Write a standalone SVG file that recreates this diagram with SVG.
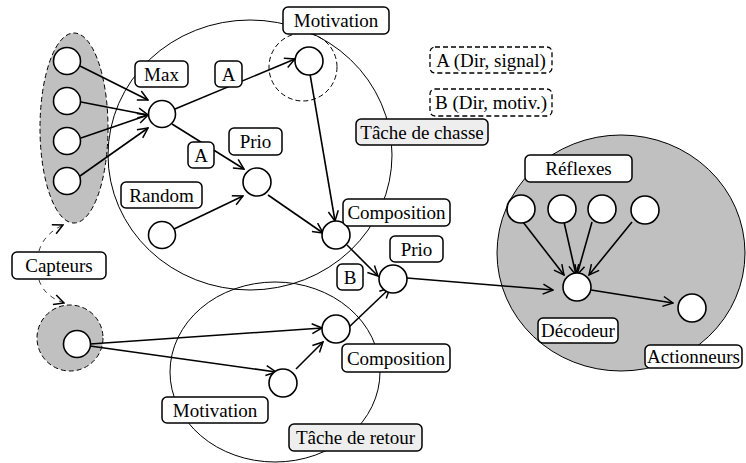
<svg xmlns="http://www.w3.org/2000/svg" width="746" height="463" viewBox="0 0 746 463" font-family="'Liberation Serif', 'Times New Roman', serif">
<defs>
<marker id="arr" viewBox="0 0 12 12" refX="11" refY="6" markerWidth="12" markerHeight="12" markerUnits="userSpaceOnUse" orient="auto">
<path d="M1,1 L11,6 L1,11" fill="none" stroke="#000" stroke-width="1.5"/>
</marker>
</defs>
<style>
.task{fill:none;stroke:#000;stroke-width:1}
.zone{fill:#c0c0c0;stroke:#000;stroke-width:1}
.dash{stroke-dasharray:5,3}
.node{fill:#fff;stroke:#000;stroke-width:1.6}
.lbl{fill:#fff;stroke:#000;stroke-width:1.5}
.lblg{fill:#eeeeee;stroke:#000;stroke-width:1.5}
.leg{fill:#fff;stroke:#000;stroke-width:1.3;stroke-dasharray:5,3}
text{font-family:'Liberation Serif','Times New Roman',serif;font-size:19px;fill:#000;text-anchor:middle}
.conn line,.conn path{stroke:#000;stroke-width:1.6;fill:none;marker-end:url(#arr)}
.conn .cd{stroke-width:0.8;stroke-dasharray:5,5}
</style>

<g id="task-chasse-area"><ellipse class="task" cx="250" cy="155" rx="142" ry="135"/></g>
<g id="task-retour-area"><ellipse class="task" cx="275" cy="372" rx="105" ry="90"/></g>
<g id="decodeur-area"><ellipse class="zone" cx="621" cy="253" rx="124" ry="118"/></g>
<g id="capteurs-zone1"><ellipse class="zone dash" cx="74" cy="128" rx="34" ry="95"/></g>
<g id="capteurs-zone2"><circle class="zone dash" cx="70" cy="338" r="33"/></g>
<g id="motivation-zone"><circle class="task dash" cx="303" cy="67" r="34"/></g>

<g class="conn" id="connectors">
<line x1="80" y1="66" x2="148" y2="100"/>
<line x1="81" y1="102" x2="148" y2="115"/>
<line x1="81" y1="138" x2="148" y2="115"/>
<line x1="80" y1="176" x2="148" y2="128"/>
<line x1="175" y1="109" x2="295" y2="59"/>
<line x1="172" y1="124" x2="244" y2="169"/>
<line x1="174" y1="229" x2="243" y2="196"/>
<line x1="310" y1="74" x2="335" y2="221"/>
<line x1="268" y1="195" x2="323" y2="233"/>
<line x1="347" y1="245" x2="378" y2="276"/>
<line x1="90" y1="344" x2="322" y2="328"/>
<line x1="90" y1="346" x2="276" y2="372"/>
<line x1="296" y1="369" x2="323" y2="342"/>
<line x1="348" y1="328" x2="390" y2="288"/>
<line x1="407" y1="278" x2="553" y2="290"/>
<line x1="523" y1="222" x2="564" y2="275"/>
<line x1="564" y1="222" x2="576" y2="275"/>
<line x1="592" y1="222" x2="577" y2="275"/>
<line x1="632" y1="222" x2="589" y2="275"/>
<line x1="591" y1="290" x2="673" y2="303"/>
<path class="cd" d="M39,251 Q44,234 63,225"/>
<path class="cd" d="M39,280 Q44,296 64,303"/>
</g>

<g id="sensor1"><circle class="node" cx="67" cy="61" r="13.5"/></g>
<g id="sensor2"><circle class="node" cx="67" cy="101" r="13.5"/></g>
<g id="sensor3"><circle class="node" cx="67" cy="141" r="13.5"/></g>
<g id="sensor4"><circle class="node" cx="67" cy="181" r="13.5"/></g>
<g id="sensor5"><circle class="node" cx="77" cy="344" r="13.5"/></g>
<g id="max-node"><circle class="node" cx="162" cy="114" r="13.5"/></g>
<g id="random-node"><circle class="node" cx="162" cy="235" r="13.5"/></g>
<g id="prio-node"><circle class="node" cx="257" cy="182" r="14"/></g>
<g id="motivation-node"><circle class="node" cx="309" cy="61" r="14"/></g>
<g id="composition-node"><circle class="node" cx="336" cy="235" r="14"/></g>
<g id="prio2-node"><circle class="node" cx="393" cy="279" r="14"/></g>
<g id="composition2-node"><circle class="node" cx="336" cy="329" r="14"/></g>
<g id="motivation2-node"><circle class="node" cx="283" cy="383" r="14"/></g>
<g id="reflex1"><circle class="node" cx="521" cy="209" r="14"/></g>
<g id="reflex2"><circle class="node" cx="562" cy="209" r="14"/></g>
<g id="reflex3"><circle class="node" cx="602" cy="209" r="14"/></g>
<g id="reflex4"><circle class="node" cx="645" cy="210" r="14"/></g>
<g id="decodeur-node"><circle class="node" cx="577" cy="287" r="14"/></g>
<g id="actionneur-node"><circle class="node" cx="692" cy="308" r="14"/></g>

<g id="lbl-max"><rect class="lbl" x="135" y="61" width="53" height="26" rx="5"/><text x="161.5" y="80.5">Max</text></g>
<g id="lbl-a1"><rect class="lbl" x="215" y="61" width="27" height="26" rx="5"/><text x="228.5" y="80.5">A</text></g>
<g id="lbl-a2"><rect class="lbl" x="188" y="142" width="26" height="26" rx="5"/><text x="201" y="161.5">A</text></g>
<g id="lbl-prio"><rect class="lbl" x="229" y="128" width="53" height="27" rx="5"/><text x="255.5" y="148">Prio</text></g>
<g id="lbl-random"><rect class="lbl" x="121" y="182" width="81" height="26" rx="5"/><text x="161.5" y="201.5">Random</text></g>
<g id="lbl-motivation"><rect class="lbl" x="283" y="7" width="106" height="27" rx="5"/><text x="336" y="27">Motivation</text></g>
<g id="lbl-tache-chasse"><rect class="lblg" x="356" y="119" width="132" height="26" rx="5"/><text x="422" y="138.5">Tâche de chasse</text></g>
<g id="lbl-composition"><rect class="lbl" x="343" y="199" width="107" height="27" rx="5"/><text x="396.5" y="219">Composition</text></g>
<g id="legend-a"><rect class="leg" x="430" y="47" width="122" height="26" rx="5"/><text x="491" y="66.5">A (Dir, signal)</text></g>
<g id="legend-b"><rect class="leg" x="430" y="89" width="122" height="27" rx="5"/><text x="491" y="109">B (Dir, motiv.)</text></g>
<g id="lbl-prio2"><rect class="lbl" x="390" y="236" width="53" height="26" rx="5"/><text x="416.5" y="255.5">Prio</text></g>
<g id="lbl-b"><rect class="lbl" x="337" y="264" width="26" height="26" rx="5"/><text x="350" y="283.5">B</text></g>
<g id="lbl-capteurs"><rect class="lbl" x="12" y="252" width="94" height="27" rx="5"/><text x="59" y="272">Capteurs</text></g>
<g id="lbl-composition2"><rect class="lbl" x="342" y="344" width="108" height="28" rx="5"/><text x="396" y="364.5">Composition</text></g>
<g id="lbl-motivation2"><rect class="lbl" x="162" y="397" width="106" height="26" rx="5"/><text x="215" y="416.5">Motivation</text></g>
<g id="lbl-tache-retour"><rect class="lblg" x="289" y="424" width="133" height="27" rx="5"/><text x="355.5" y="444">Tâche de retour</text></g>
<g id="lbl-reflexes"><rect class="lbl" x="525" y="155" width="107" height="27" rx="5"/><text x="578.5" y="175">Réflexes</text></g>
<g id="lbl-decodeur"><rect class="lbl" x="538" y="318" width="80" height="25" rx="5"/><text x="578" y="337">Décodeur</text></g>
<g id="lbl-actionneurs"><rect class="lbl" x="645" y="345" width="97" height="23" rx="5"/><text x="693.5" y="363">Actionneurs</text></g>
</svg>
